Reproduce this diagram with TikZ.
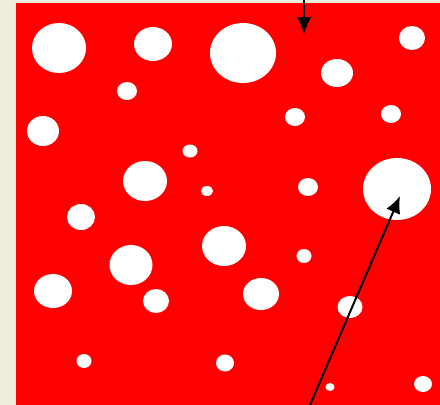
\documentclass[tikz,border=0pt]{standalone}
\usepackage{xcolor}
\usetikzlibrary{calc,shapes,arrows.meta}
\definecolor{paper}{RGB}{240,239,222}
\tikzstyle{every picture}=[->,>={Latex[length=17pt,width=15pt]}]
\tikzstyle{hole}=[ellipse,fill=white,inner sep=0pt]

\begin{document}
\begin{tikzpicture}[x=1pt,y=-1pt]
    % Background and red sheet
    \useasboundingbox (0,0) rectangle (440,405);
    \fill[paper] (0,0) rectangle (440,405);
    \fill[red] (16,3) rectangle (440,405);

    % Top row of holes
    \node[hole,minimum width=54pt,minimum height=50pt] (h1) at (59,48) {};
    \node[hole,minimum width=38pt,minimum height=34pt] (h2) at (153,44) {};
    \node[hole,minimum width=66pt,minimum height=60pt] (h3) at (243,53) {};
    \node[hole,minimum width=32pt,minimum height=28pt] (h4) at (337,73) {};
    \node[hole,minimum width=26pt,minimum height=24pt] (h5) at (412,38) {};
    \node[hole,minimum width=20pt,minimum height=18pt] (h6) at (127,91) {};

    % Second row
    \node[hole,minimum width=32pt,minimum height=30pt] (h7) at (43,131) {};
    \node[hole,minimum width=20pt,minimum height=18pt] (h8) at (295,117) {};
    \node[hole,minimum width=20pt,minimum height=18pt] (h9) at (391,114) {};
    \node[hole,minimum width=15pt,minimum height=13pt] (h10) at (190,151) {};
    \node[hole,minimum width=44pt,minimum height=40pt] (h11) at (145,181) {};
    \node[hole,minimum width=12pt,minimum height=10pt] (h12) at (207,191) {};
    \node[hole,minimum width=20pt,minimum height=18pt] (h13) at (308,187) {};
    \node[hole,minimum width=68pt,minimum height=62pt] (big) at (397,189) {};

    % Middle
    \node[hole,minimum width=28pt,minimum height=26pt] (h15) at (81,217) {};
    \node[hole,minimum width=44pt,minimum height=40pt] (h16) at (224,246) {};
    \node[hole,minimum width=15pt,minimum height=14pt] (h17) at (304,256) {};
    \node[hole,minimum width=43pt,minimum height=40pt] (h18) at (131,265) {};

    % Lower rows
    \node[hole,minimum width=38pt,minimum height=34pt] (h19) at (53,291) {};
    \node[hole,minimum width=26pt,minimum height=24pt] (h20) at (156,301) {};
    \node[hole,minimum width=36pt,minimum height=32pt] (h21) at (261,294) {};
    \node[hole,minimum width=25pt,minimum height=22pt] (h22) at (350,307) {};
    \node[hole,minimum width=15pt,minimum height=14pt] (h23) at (84,361) {};
    \node[hole,minimum width=18pt,minimum height=17pt] (h24) at (225,363) {};
    \node[hole,minimum width=9pt,minimum height=8pt] (h25) at (330,387) {};
    \node[hole,minimum width=18pt,minimum height=16pt] (h26) at (423,384) {};

    % Arrows
    \coordinate (top) at (304,0);
    \coordinate (topend) at (304,34);
    \coordinate (bot) at (310,405);
    \draw[line width=2pt] (top) -- (topend);
    \draw[line width=2pt] (bot) -- ([shift={(3,7)}]big.center);
\end{tikzpicture}
\end{document}
